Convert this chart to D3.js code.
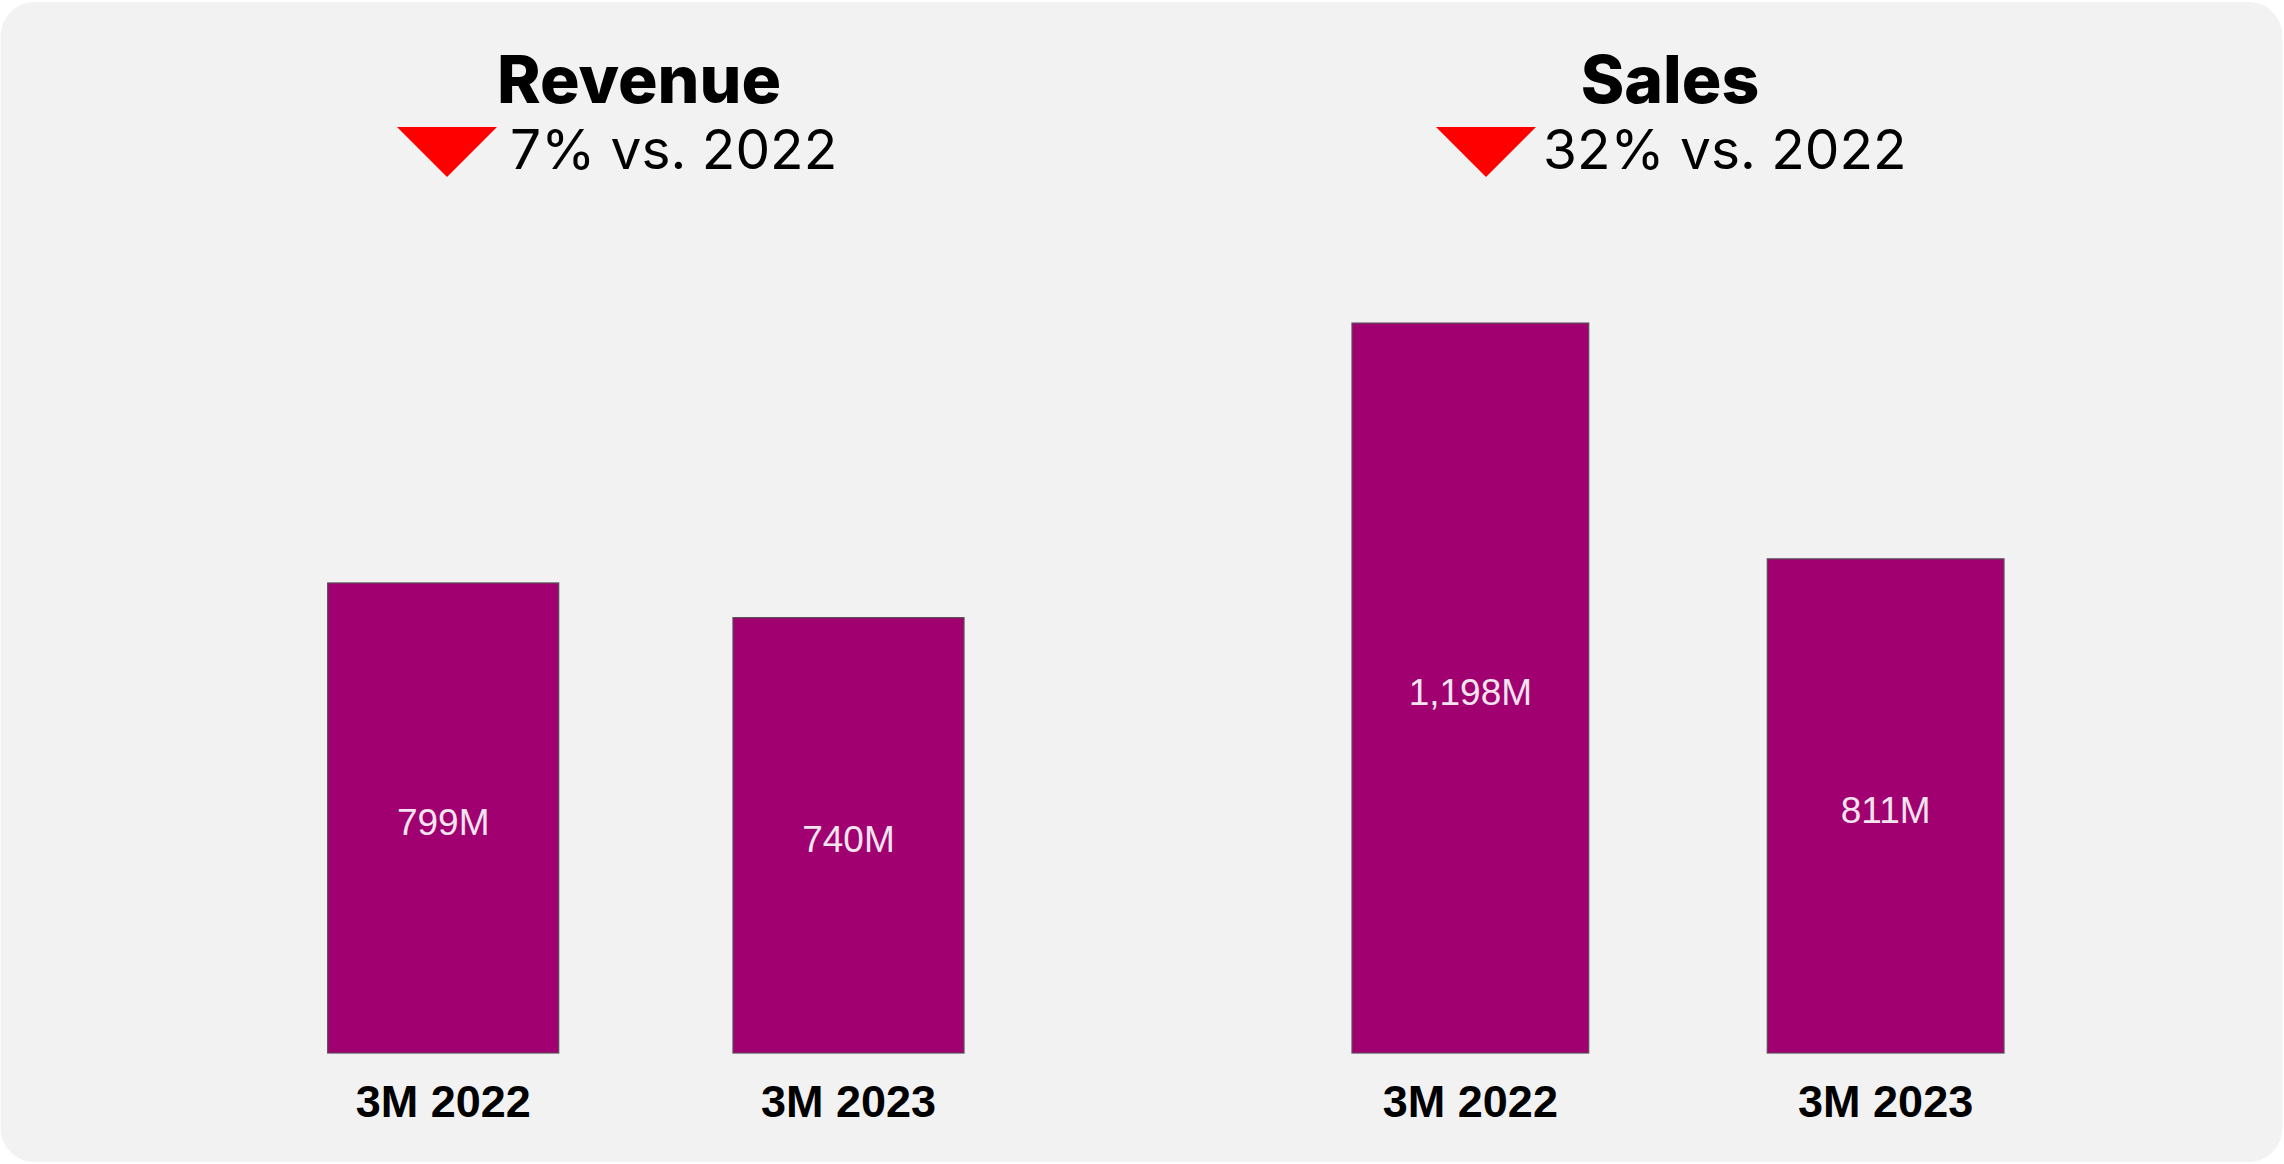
<!DOCTYPE html>
<html>
<head>
<meta charset="utf-8">
<script src="https://cdn.jsdelivr.net/npm/d3@7"></script>
<style>
  html, body { margin: 0; padding: 0; background: #ffffff; }
  svg { display: block; }
</style>
</head>
<body>
<div id="chart"></div>
<script>
// ===========================
// Revenue vs Sales — two small bar panels, 3M 2022 vs 3M 2023
// ===========================

const periods = ['3M 2022', '3M 2023'];
const panelTitles = ['Revenue', 'Sales'];
const panelChanges = ['7% vs. 2022', '32% vs. 2022'];
const revenueValues = [799, 740];
const salesValues = [1198, 811];
const valueLabels = [['799M', '740M'], ['1,198M', '811M']];
const yMaxByPanel = [1450, 1400];   // each panel has its own y scale

const W = 2284, H = 1164;
const BAR_COLOR = '#a00070';

const svg = d3.select('#chart')
    .append('svg')
    .attr('width', W)
    .attr('height', H);

// card background
svg.append('rect')
    .attr('x', 0.5).attr('y', 2)
    .attr('width', W - 2).attr('height', H - 4)
    .attr('rx', 34).attr('ry', 34)
    .attr('fill', '#f2f2f2');

// ── Panel layout ─────────────────────────────────────────────────────────
const baseY = 1053;
const topY = 200;
const panels = [
    { title: panelTitles[0], change: panelChanges[0], values: revenueValues,
      labels: valueLabels[0], range: [327.7, 964], yMax: yMaxByPanel[0],
      titleX: 639, triX: 397, changeX: 510 },
    { title: panelTitles[1], change: panelChanges[1], values: salesValues,
      labels: valueLabels[1], range: [1352, 2004], yMax: yMaxByPanel[1],
      titleX: 1670, triX: 1436, changeX: 1543 }
];

panels.forEach(p => {
    const data = periods.map((period, i) => ({ period, value: p.values[i], label: p.labels[i] }));

    const x = d3.scaleBand()
        .domain(periods)
        .range(p.range)
        .paddingInner(0.43)
        .paddingOuter(0);

    const y = d3.scaleLinear()
        .domain([0, p.yMax])
        .range([baseY, topY]);

    const g = svg.append('g');

    // header
    g.append('text')
        .attr('x', p.titleX)
        .attr('y', 103)
        .attr('text-anchor', 'middle')
        .style('font-family', 'Inter, "Open Sans", sans-serif')
        .style('font-weight', '800')
        .style('font-size', '66px')
        .style('fill', '#000')
        .text(p.title);

    g.append('path')
        .attr('d', `M${p.triX},127 L${p.triX + 100},127 L${p.triX + 50},177 Z`)
        .attr('fill', '#ff0000');

    g.append('text')
        .attr('x', p.changeX)
        .attr('y', 169)
        .style('font-family', 'Inter, "Open Sans", sans-serif')
        .style('font-weight', '400')
        .style('font-size', '55px')
        .style('fill', '#000')
        .text(p.change);

    // bars
    g.selectAll('.bar')
        .data(data)
        .join('rect')
        .attr('class', 'bar')
        .attr('x', d => x(d.period))
        .attr('y', d => y(d.value))
        .attr('width', x.bandwidth())
        .attr('height', d => y(0) - y(d.value))
        .attr('fill', BAR_COLOR)
        .attr('stroke', '#5a4a55')
        .attr('stroke-width', 1.2);

    // value labels, centred in bar
    g.selectAll('.val')
        .data(data)
        .join('text')
        .attr('class', 'val')
        .attr('x', d => x(d.period) + x.bandwidth() / 2)
        .attr('y', d => (y(d.value) + y(0)) / 2)
        .attr('dy', '0.46em')
        .attr('text-anchor', 'middle')
        .style('font-family', '"Liberation Sans", Arial, sans-serif')
        .style('font-size', '37px')
        .style('fill', '#f4e4ef')
        .text(d => d.label);

    // category axis (no line, no ticks)
    const axis = g.append('g')
        .attr('transform', `translate(0,${baseY})`)
        .call(d3.axisBottom(x).tickSize(0).tickPadding(32));
    axis.select('.domain').remove();
    axis.selectAll('text')
        .style('font-family', '"Liberation Sans", Arial, sans-serif')
        .style('font-weight', '700')
        .style('font-size', '45px')
        .style('fill', '#000');
});
</script>
</body>
</html>
